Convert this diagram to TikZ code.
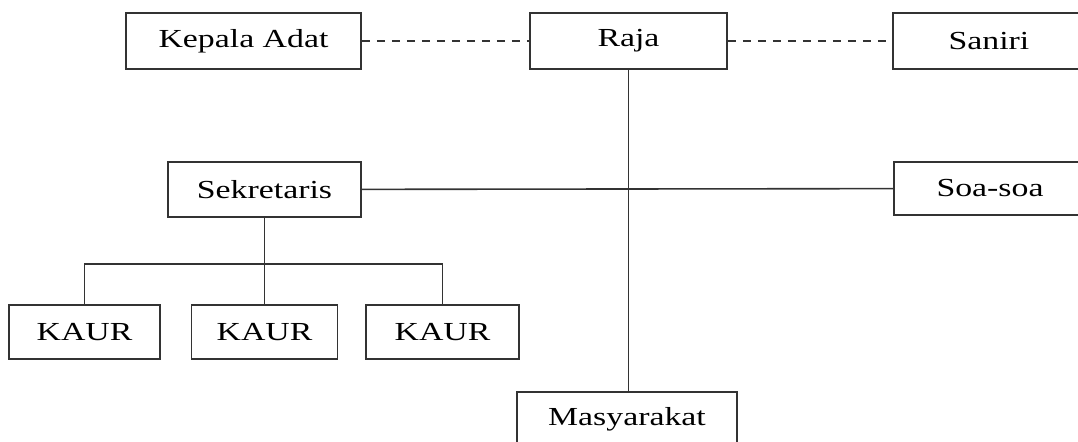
\documentclass[tikz,border=0pt]{standalone}
\usepackage{fontspec}
\setmainfont{Liberation Serif}[FakeStretch=1.3]
\begin{document}
\begin{tikzpicture}[x=0.5pt,y=-0.5pt,line width=0.8pt,
  box/.style={draw=black!80,inner sep=0pt,minimum height=28pt,font=\fontsize{13}{15}\selectfont},
  link/.style={draw=black!80},
  dashlink/.style={draw=black!80,dash pattern=on 4pt off 3.5pt}]
  \useasboundingbox (0,0) rectangle (1078,442);
  \coordinate (bar) at (0,264);

  \node[box,minimum width=117.5pt] (kepala) at (243.5,41) {Kepala Adat};
  \node[box,minimum width=98.5pt] (raja) at (628.5,41) {Raja};
  \node[box,minimum width=96pt] (saniri) at (989,41) {Saniri};
  \node[box,minimum width=96.5pt,minimum height=27.5pt] (sekretaris) at (264.5,189.5) {Sekretaris};
  \node[box,minimum width=96pt,minimum height=26.5pt] (soa) at (990,188.5) {Soa-soa};
  \node[box,minimum width=75.5pt,minimum height=27pt] (kaur1) at (84.5,332) {KAUR};
  \node[box,minimum width=73pt,minimum height=27pt] (kaur2) at (264.5,332) {KAUR};
  \node[box,minimum width=76.5pt,minimum height=27pt] (kaur3) at (442.5,332) {KAUR};
  \node[box,minimum width=110pt,minimum height=27.5pt] (masyarakat) at (627,419.5) {Masyarakat};

  \draw[dashlink] (kepala) -- (raja);
  \draw[dashlink] (raja) -- (saniri);
  \draw[link] (raja.south) -- (masyarakat.north -| raja.south);
  \draw[link] (sekretaris) -- (soa);
  \draw[link] (sekretaris.south) -- (kaur2.north);
  \draw[link] (kaur1.north) -- (kaur1.north |- bar) -- (kaur3.north |- bar) -- (kaur3.north);
\end{tikzpicture}
\end{document}
